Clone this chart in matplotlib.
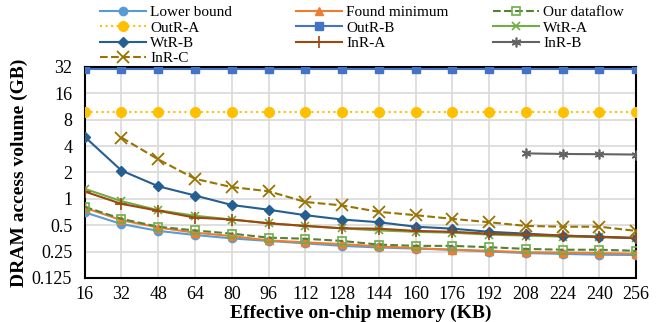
import matplotlib
matplotlib.use("Agg")
import matplotlib.pyplot as plt
from matplotlib.ticker import FixedLocator, NullLocator, FixedFormatter

plt.rcParams['font.family'] = ['Liberation Serif', 'DejaVu Serif']

mem = [16, 32, 48, 64, 80, 96, 112, 128, 144, 160, 176, 192, 208, 224, 240, 256]

lower_bound = [0.70, 0.515, 0.43, 0.386, 0.353, 0.33, 0.31, 0.29, 0.278, 0.27, 0.262, 0.25, 0.24, 0.235, 0.23, 0.228]
found_min = [0.79, 0.57, 0.47, 0.41, 0.375, 0.335, 0.318, 0.304, 0.286, 0.273, 0.262, 0.255, 0.245, 0.243, 0.24, 0.235]
our_dataflow = [0.81, 0.59, 0.48, 0.435, 0.40, 0.36, 0.35, 0.33, 0.30, 0.29, 0.29, 0.28, 0.268, 0.262, 0.262, 0.255]
outr_a = [9.9] * 16
outr_b = [30.0] * 16
wtr_a = [1.3, 0.94, 0.74, 0.64, 0.58, 0.525, 0.49, 0.46, 0.435, 0.42, 0.41, 0.39, 0.38, 0.37, 0.366, 0.356]
wtr_b = [5.1, 2.1, 1.39, 1.09, 0.85, 0.75, 0.65, 0.58, 0.54, 0.48, 0.456, 0.42, 0.40, 0.38, 0.37, 0.356]
inr_a = [1.21, 0.875, 0.73, 0.61, 0.58, 0.525, 0.49, 0.46, 0.456, 0.43, 0.42, 0.40, 0.39, 0.38, 0.366, 0.356]
inr_b_mem = [208, 224, 240, 256]
inr_b = [3.3, 3.25, 3.23, 3.2]
inr_c_mem = mem[1:]
inr_c = [5.0, 2.82, 1.69, 1.36, 1.22, 0.92, 0.84, 0.71, 0.65, 0.59, 0.54, 0.49, 0.48, 0.48, 0.43]

yticks = [0.125, 0.25, 0.5, 1, 2, 4, 8, 16, 32]
ytick_labels = ['0.125', '0.25', '0.5', '1', '2', '4', '8', '16', '32']

fig = plt.figure(figsize=(6.62, 3.22), dpi=100)
ax = fig.add_axes([0.128, 0.137, 0.833, 0.655])

lw = 1.5
h = {}
h['lb'], = ax.plot(mem, lower_bound, color='#5B9BD5', marker='o', ms=6, lw=lw, label='Lower bound', zorder=5)
h['fm'], = ax.plot(mem, found_min, color='#ED7D31', marker='^', ms=6, lw=lw, label='Found minimum', zorder=6)
h['od'], = ax.plot(mem, our_dataflow, color='#548235', ls='--', marker='s', ms=6, mfc='none', mec='#70AD47', mew=1.2, lw=lw, label='Our dataflow', zorder=7)
h['oa'], = ax.plot(mem, outr_a, color='#FFC000', ls=':', marker='o', ms=7, lw=lw, label='OutR-A', zorder=4)
h['ob'], = ax.plot(mem, outr_b, color='#4472C4', marker='s', ms=5.5, lw=lw, label='OutR-B', zorder=4)
h['wa'], = ax.plot(mem, wtr_a, color='#70AD47', marker='x', ms=6, mew=1.2, lw=lw, label='WtR-A', zorder=4)
h['wb'], = ax.plot(mem, wtr_b, color='#255E91', marker='D', ms=5, lw=lw, label='WtR-B', zorder=4)
h['ia'], = ax.plot(mem, inr_a, color='#9E480E', marker='+', ms=8, mew=1.2, lw=lw, label='InR-A', zorder=4)
h['ib'], = ax.plot(inr_b_mem, inr_b, color='#636363', marker=(6, 2, 0), ms=7, mew=1.2, lw=lw, label='InR-B', zorder=4)
h['ic'], = ax.plot(inr_c_mem, inr_c, color='#997300', ls='--', marker='x', ms=8, mew=1.3, lw=lw, label='InR-C', zorder=4)

ax.set_yscale('log', base=2)
ax.set_ylim(0.125, 32)
ax.set_xlim(16, 256)
ax.yaxis.set_major_locator(FixedLocator(yticks))
ax.yaxis.set_major_formatter(FixedFormatter(ytick_labels))
ax.yaxis.set_minor_locator(NullLocator())
ax.set_xticks(mem)
ax.set_xticklabels([str(m) for m in mem])
ax.tick_params(axis='x', length=0, labelsize=13, pad=6)
ax.tick_params(axis='y', length=0, labelsize=13, pad=9)
ax.grid(True, color='#D9D9D9', lw=1.2)
ax.set_axisbelow(True)
for s in ax.spines.values():
    s.set_color('black')
    s.set_linewidth(1.5)

ax.set_xlabel('Effective on-chip memory (KB)', fontsize=14, fontweight='bold', labelpad=1)
ax.set_ylabel('DRAM access volume (GB)', fontsize=14, fontweight='bold', labelpad=3)

columns = [['lb', 'oa', 'wb', 'ic'], ['fm', 'ob', 'ia'], ['od', 'wa', 'ib']]
col_x = [100, 296, 493]
for keys, x in zip(columns, col_x):
    hs = [h[k] for k in keys]
    leg = fig.legend(hs, [hh.get_label() for hh in hs], loc='upper left',
                     bbox_to_anchor=(x / 662, 0.982), ncol=1, frameon=False,
                     fontsize=11, handlelength=3.0, labelspacing=0.1,
                     handletextpad=0.3, borderaxespad=0.0, borderpad=0.0)

fig.savefig('out.png', dpi=100)
